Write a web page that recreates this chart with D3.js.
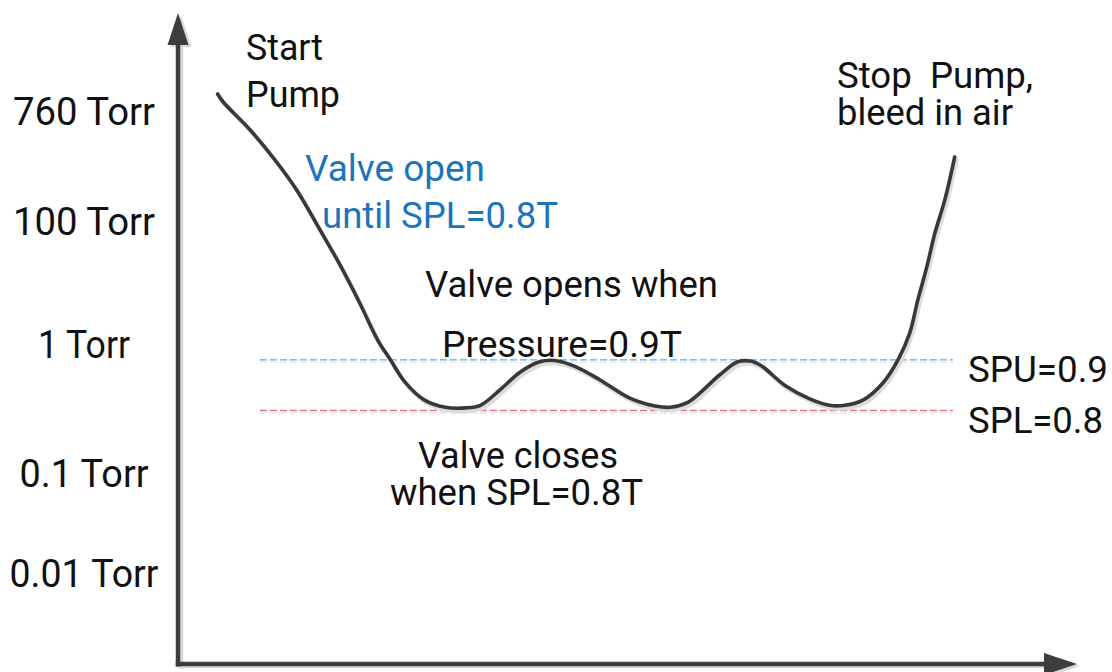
<!DOCTYPE html>
<html>
<head>
<meta charset="utf-8">
<script src="https://cdn.jsdelivr.net/npm/d3@7"></script>
<style>
  html, body { margin: 0; padding: 0; background: #fff; }
  svg { display: block; }
  text { font-family: Roboto, "Noto Sans", sans-serif; }
</style>
</head>
<body>
<svg id="chart" width="1112" height="672"></svg>
<script>
// ---------- data ----------
const yTickLabels = ["760 Torr", "100 Torr", "1 Torr", "0.1 Torr", "0.01 Torr"];
const yTickLevels = [85.1, 68.2, 49.2, 29.4, 14.0];

// pump-down pressure curve (time units, schematic level units)
const curveTime  = [4.4, 5.0, 8.0, 10.8, 13.2, 15.6, 18.0, 20.2, 22.2, 23.6, 25.2, 27.4, 29.7, 31.9, 33.6, 35.8, 38.0, 40.2, 41.9, 44.1, 46.9, 50.2, 53.0, 54.7, 56.7, 58.0, 60.2, 62.2, 63.6, 64.9, 67.4, 70.2, 72.4, 74.1, 76.1, 78.3, 80.0, 81.3, 82.2, 83.2, 84.1, 85.2, 86.3];
const curveLevel = [87.7, 86.5, 82.2, 77.5, 72.9, 67.2, 61.4, 55.5, 49.8, 46.8, 43.4, 40.6, 39.5, 39.4, 39.8, 42.2, 44.9, 46.5, 46.7, 45.8, 43.7, 40.9, 39.7, 39.5, 40.3, 41.7, 44.5, 46.5, 46.6, 45.8, 42.9, 40.8, 39.8, 39.8, 40.6, 43.2, 46.8, 50.9, 56.0, 61.1, 66.3, 71.4, 78.0];

// set-point lines
const setPointNames  = ["SPU=0.9", "SPL=0.8"];
const setPointLevels = [46.8, 39.0];
const setPointSpan   = [9.1, 86.1];

// annotations: lines of text, anchor (time, level)
const noteLines = [
  ["Start", "Pump"],
  ["Valve open", " until SPL=0.8T"],
  ["Valve opens when", "Pressure=0.9T"],
  ["Valve closes", "when SPL=0.8T"],
  ["Stop  Pump,", "bleed in air"]
];

// ---------- layout ----------
const svg = d3.select("#chart");
const x = d3.scaleLinear().domain([0, 100]).range([178, 1078]);
const y = d3.scaleLinear().domain([0, 100]).range([664, 14]);

const axisColor = "#3d3d3d";
const shadow = "#dcdcdc";

// ---------- set-point dashed lines ----------
const spColors = ["#5aa7e3", "#d9787c"];
setPointLevels.forEach((lv, i) => {
  svg.append("line")
    .attr("x1", x(setPointSpan[0])).attr("x2", x(setPointSpan[1]))
    .attr("y1", y(lv) + 2.5).attr("y2", y(lv) + 2.5)
    .attr("stroke", "#e6e6e6").attr("stroke-width", 1.3)
    .attr("stroke-dasharray", "7,3");
  svg.append("line")
    .attr("x1", x(setPointSpan[0])).attr("x2", x(setPointSpan[1]))
    .attr("y1", y(lv)).attr("y2", y(lv))
    .attr("stroke", spColors[i]).attr("stroke-width", 1.3)
    .attr("stroke-dasharray", "7,3");
});

// ---------- curve ----------
const pts = curveTime.map((t, i) => [t, curveLevel[i]]);
const line = d3.line().x(d => x(d[0])).y(d => y(d[1])).curve(d3.curveCatmullRom.alpha(0.5));
svg.append("path").attr("d", line(pts))
  .attr("transform", "translate(2,3)")
  .attr("fill", "none").attr("stroke", shadow).attr("stroke-width", 4)
  .attr("stroke-linecap", "round");
svg.append("path").attr("d", line(pts))
  .attr("fill", "none").attr("stroke", "#383838").attr("stroke-width", 3.6)
  .attr("stroke-linecap", "round").attr("stroke-linejoin", "round");

// ---------- axes ----------
function axes(g, color, dx, dy) {
  g.attr("transform", `translate(${dx},${dy})`);
  g.append("line").attr("x1", x(0)).attr("x2", x(0)).attr("y1", 44).attr("y2", y(0) + 2.5)
    .attr("stroke", color).attr("stroke-width", 4.5);
  g.append("path")
    .attr("d", `M${x(0)},13 L${x(0) + 10.5},45 L${x(0) - 10.5},45 Z`)
    .attr("fill", color);
  g.append("line").attr("x1", x(0) - 2.2).attr("x2", 1046).attr("y1", y(0)).attr("y2", y(0))
    .attr("stroke", color).attr("stroke-width", 4.5);
  g.append("path")
    .attr("d", `M1077,${y(0)} L1044,${y(0) - 11} L1044,${y(0) + 11} Z`)
    .attr("fill", color);
}
axes(svg.append("g"), "#d8d8d8", 3, 2);
axes(svg.append("g"), axisColor, 0, 0);

// ---------- y tick labels ----------
const yLabelTargets = [142, 142, 92, 129, 149];
svg.append("g").selectAll("text").data(yTickLabels).join("text")
  .attr("x", 84)
  .attr("y", (d, i) => y(yTickLevels[i]) + 14)
  .attr("text-anchor", "middle")
  .attr("font-size", 39)
  .attr("fill", "#111")
  .attr("textLength", (d, i) => yLabelTargets[i])
  .attr("lengthAdjust", "spacingAndGlyphs")
  .text(d => d);

// ---------- set-point labels ----------
const spLabelWidths = [140, 135];
svg.append("g").selectAll("text").data(setPointNames).join("text")
  .attr("x", 968)
  .attr("y", (d, i) => y(setPointLevels[i]) + 22)
  .attr("font-size", 36)
  .attr("fill", "#111")
  .attr("textLength", (d, i) => spLabelWidths[i])
  .attr("lengthAdjust", "spacingAndGlyphs")
  .text(d => d);

// ---------- annotations ----------
const noteLayout = [
  {x: [246, 246], y: [60, 107], w: [77, 94], color: "#111"},
  {x: [305, 322], y: [181, 228], w: [180, 236], color: "#1c74bd"},
  {x: [425, 442], y: [297, 357], w: [293, 240], color: "#111"},
  {x: [418, 390], y: [468, 505], w: [200, 253], color: "#111"},
  {x: [837, 837], y: [88, 125], w: [196, 176], color: "#111"}
];
noteLines.forEach((lines, i) => {
  const L = noteLayout[i];
  lines.forEach((t, j) => {
    svg.append("text")
      .attr("x", L.x[j]).attr("y", L.y[j])
      .attr("font-size", 36)
      .attr("fill", L.color)
      .attr("xml:space", "preserve")
      .style("white-space", "pre")
      .attr("textLength", L.w[j])
      .attr("lengthAdjust", "spacingAndGlyphs")
      .text(t.trim() === t ? t : t.trim());
  });
});
</script>
</body>
</html>
